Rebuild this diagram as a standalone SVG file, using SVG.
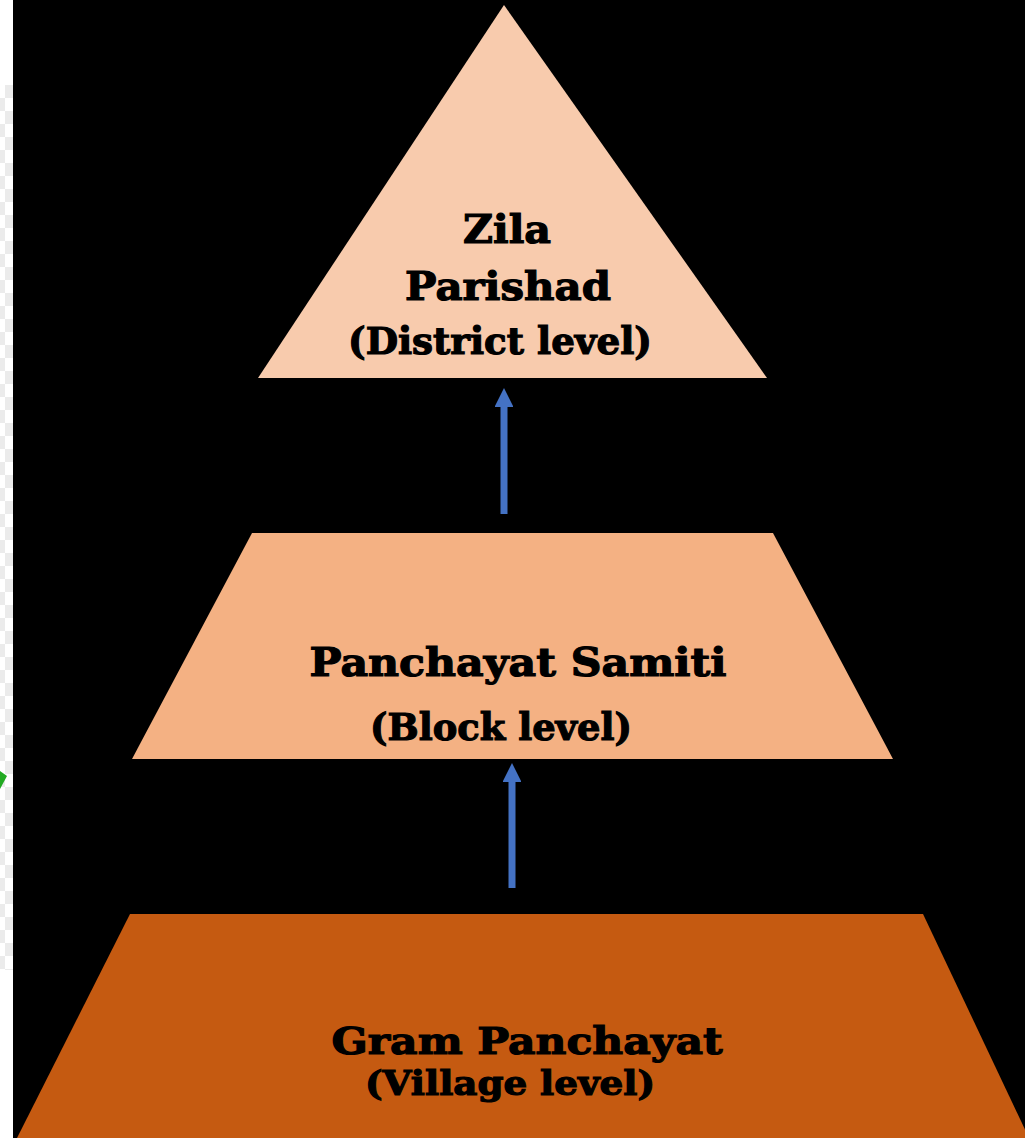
<svg xmlns="http://www.w3.org/2000/svg" width="1025" height="1138" viewBox="0 0 1025 1138">
  <defs>
    <style>
      .lbl { font-family: "DejaVu Serif", "Liberation Serif", serif; font-weight: bold; fill: #000000; stroke: #000000; stroke-width: 1.2; text-anchor: middle; }
      .conn { stroke: #4472C4; stroke-width: 7; fill: none; }
    </style>
    <marker id="ah" viewBox="0 0 10 10" refX="0" refY="5" markerWidth="2.7" markerHeight="2.7" orient="auto" markerUnits="strokeWidth">
      <path d="M0,0 L10,5 L0,10 Z" fill="#4472C4"/>
    </marker>
    <pattern id="chk" x="0" y="85" width="13" height="26" patternUnits="userSpaceOnUse">
      <rect x="0" y="0" width="13" height="26" fill="#ffffff"/>
      <rect x="5" y="0" width="8" height="13" fill="#ebebeb"/>
      <rect x="0" y="13" width="5" height="13" fill="#ebebeb"/>
    </pattern>
  </defs>

  <!-- background -->
  <rect x="0" y="0" width="1025" height="1138" fill="#ffffff"/>
  <rect x="0" y="85" width="13" height="885" fill="url(#chk)"/>
  <polygon points="0,771 7,776 0,789" fill="#22aa22"/>
  <rect x="13" y="0" width="1012" height="1138" fill="#000000"/>

  <g id="zila-parishad">
    <polygon points="504,5 767,378 258,378" fill="#F8CBAD"/>
    <text class="lbl" x="507" y="243" font-size="40" textLength="88" lengthAdjust="spacingAndGlyphs">Zila</text>
    <text class="lbl" x="508" y="300" font-size="40" textLength="206" lengthAdjust="spacingAndGlyphs">Parishad</text>
    <text class="lbl" x="500" y="354" font-size="38" textLength="304" lengthAdjust="spacingAndGlyphs">(District level)</text>
  </g>

  <g id="panchayat-samiti">
    <polygon points="252,533 773,533 893,759 132,759" fill="#F4B183"/>
    <text class="lbl" x="518" y="676" font-size="40" textLength="417" lengthAdjust="spacingAndGlyphs">Panchayat Samiti</text>
    <text class="lbl" x="501" y="740" font-size="38" textLength="262" lengthAdjust="spacingAndGlyphs">(Block level)</text>
  </g>

  <g id="gram-panchayat">
    <polygon points="130,914 923,914 1030,1140 16,1140" fill="#C55A11"/>
    <text class="lbl" x="527" y="1054" font-size="38" textLength="391" lengthAdjust="spacingAndGlyphs">Gram Panchayat</text>
    <text class="lbl" x="510" y="1095" font-size="34" textLength="290" lengthAdjust="spacingAndGlyphs">(Village level)</text>
  </g>

  <g id="connectors">
    <line class="conn" x1="504" y1="514" x2="504" y2="407" marker-end="url(#ah)"/>
    <line class="conn" x1="512" y1="888" x2="512" y2="782" marker-end="url(#ah)"/>
  </g>
</svg>
